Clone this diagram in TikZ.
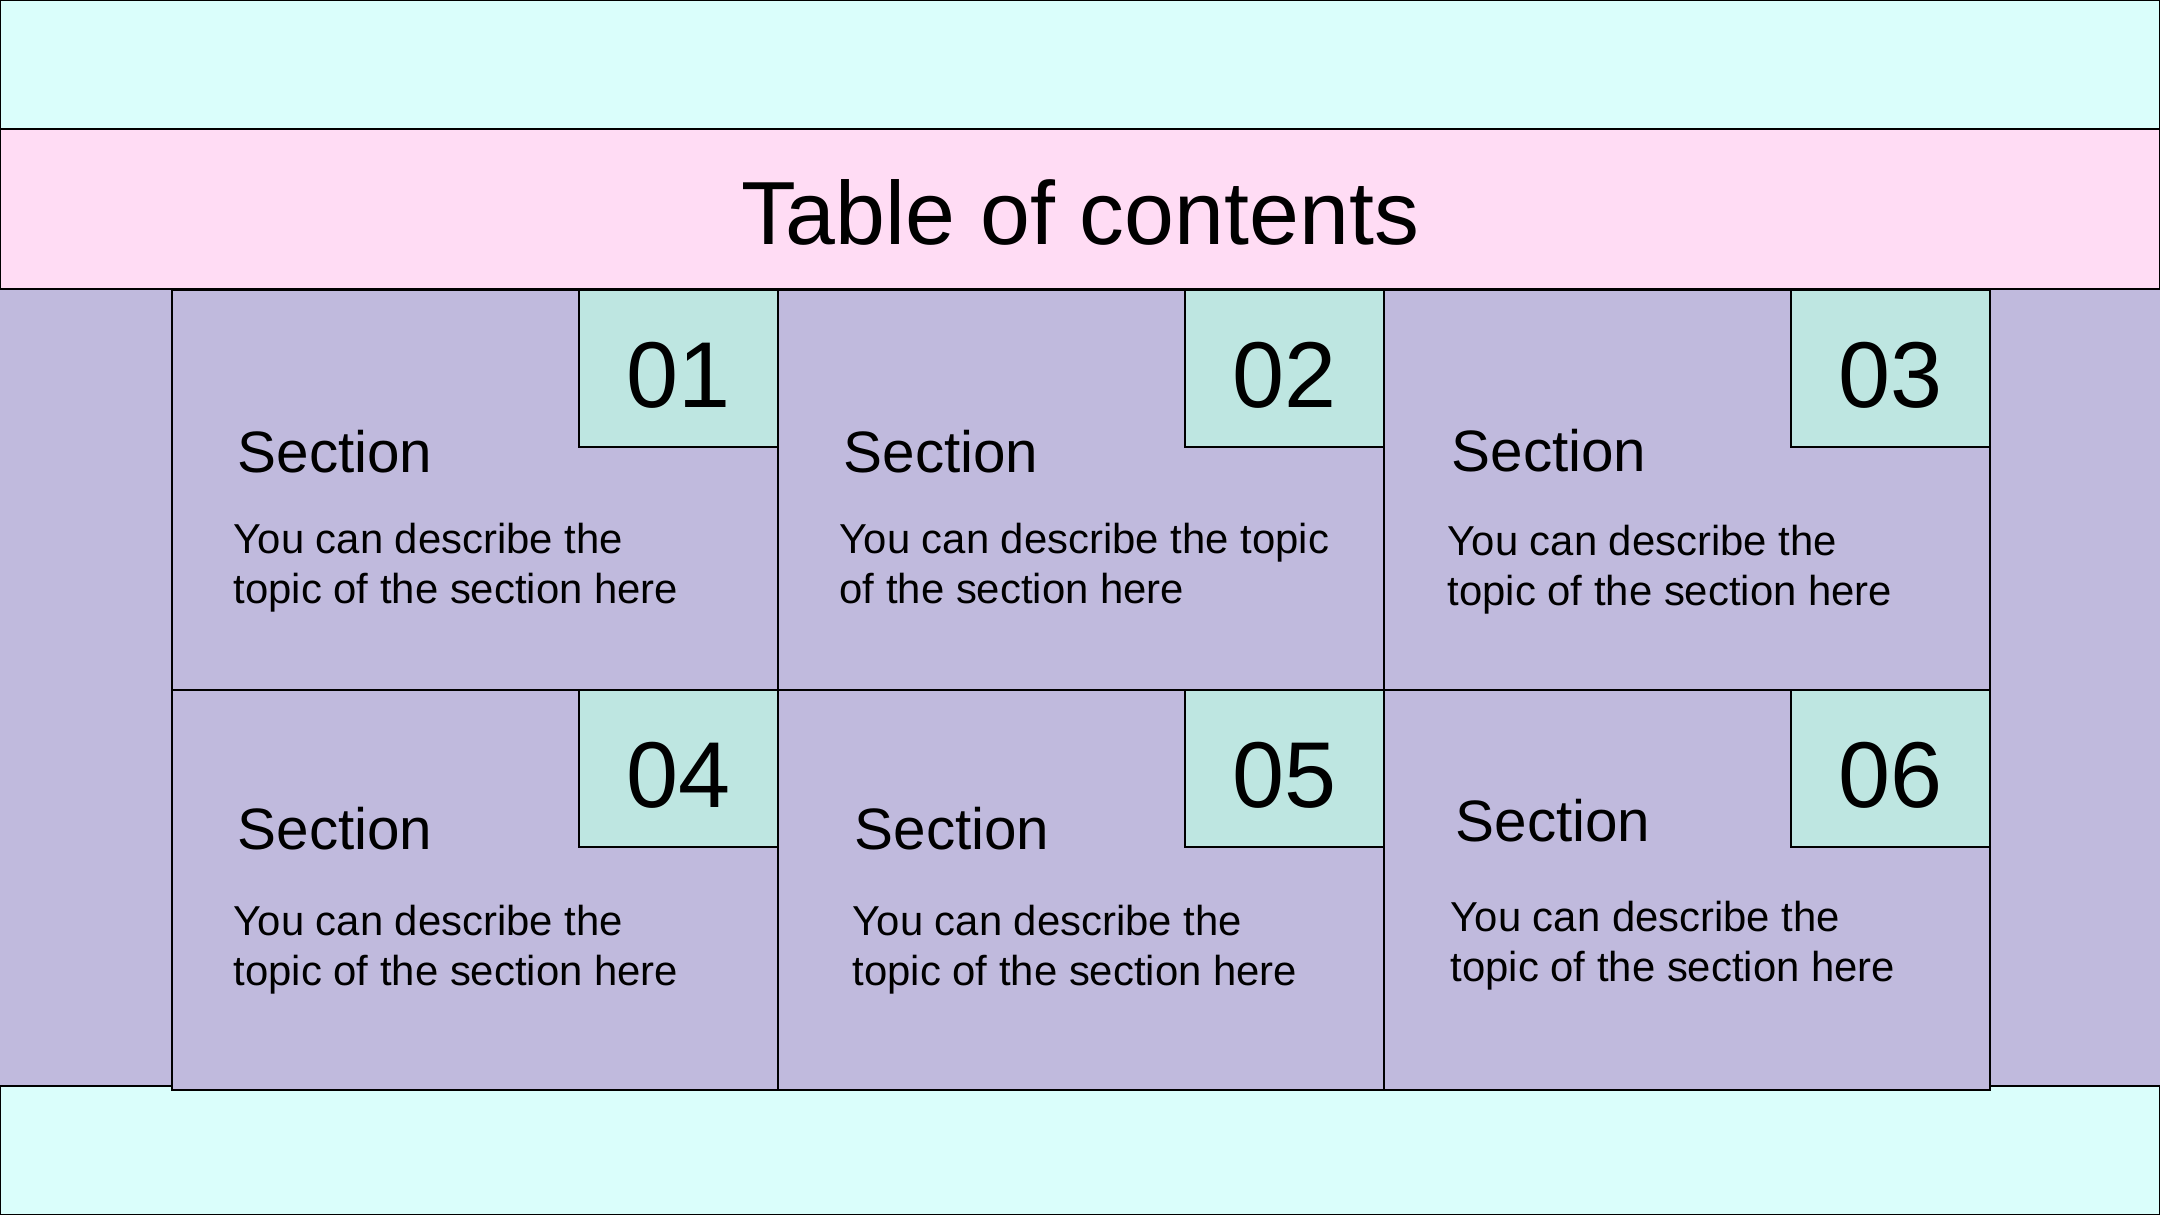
\documentclass[tikz,border=0pt]{standalone}
\usepackage{fontspec}
\setmainfont{Liberation Sans}
\usetikzlibrary{positioning}
\definecolor{bandcyan}{HTML}{DAFEFB}
\definecolor{titlepink}{HTML}{FFDCF4}
\definecolor{cardlilac}{HTML}{C0BADD}
\definecolor{numteal}{HTML}{BEE6E1}

\begin{document}
\begin{tikzpicture}[x=0.01cm, y=-0.01cm,
  band/.style={draw, line width=0.6pt},
  card/.style={draw, line width=0.6pt, fill=cardlilac, minimum width=6.06cm, minimum height=4cm, anchor=north west, inner sep=0pt},
  numbox/.style={draw, line width=0.6pt, fill=numteal, minimum width=1.99cm, minimum height=1.57cm, anchor=north east, inner sep=0pt, font=\fontsize{26.6}{30}\selectfont, text height=22pt, text depth=0pt},
  heading/.style={anchor=base west, inner sep=0pt, font=\fontsize{16.6}{20}\selectfont},
  blurb/.style={anchor=base west, inner sep=0pt, align=left, font=\fontsize{11.9}{14.2}\selectfont}
]
  \useasboundingbox (0,0) rectangle (2160,1215);

  % Background bands
  \fill[cardlilac] (0,289) rectangle (2160,1086);
  \draw[band, fill=bandcyan] (0,0) rectangle (2160,129);
  \draw[band, fill=titlepink] (0,129) rectangle (2160,289);
  \draw[band, fill=bandcyan] (0,1086) rectangle (2160,1215);
  \node[anchor=base, font=\fontsize{25.5}{30}\selectfont] (title) at (1080,244) {Table of contents};

  % Cards
  \node[card] (c1) at (171,289) {};
  \node[card] (c2) at (777,289) {};
  \node[card] (c3) at (1383,289) {};
  \node[card] (c4) at (171,689) {};
  \node[card] (c5) at (777,689) {};
  \node[card] (c6) at (1383,689) {};

  % Numbers
  \node[numbox] (n1) at (c1.north east) {01};
  \node[numbox] (n2) at (c2.north east) {02};
  \node[numbox] (n3) at (c3.north east) {03};
  \node[numbox] (n4) at (c4.north east) {04};
  \node[numbox] (n5) at (c5.north east) {05};
  \node[numbox] (n6) at (c6.north east) {06};

  % Section texts (blurbs sit on their last line)
  \node[heading] (h1) at (237,472) {Section};
  \node[heading] (h2) at (843,472) {Section};
  \node[heading] (h3) at (1451,471) {Section};
  \node[heading] (h4) at (237,849) {Section};
  \node[heading] (h5) at (854,849) {Section};
  \node[heading] (h6) at (1455,841) {Section};

  \node[blurb] (d1) at (233,603) {You can describe the\\topic of the section here};
  \node[blurb] (d2) at (839,603) {You can describe the topic\\of the section here};
  \node[blurb] (d3) at (1447,605) {You can describe the\\topic of the section here};
  \node[blurb] (d4) at (233,985) {You can describe the\\topic of the section here};
  \node[blurb] (d5) at (852,985) {You can describe the\\topic of the section here};
  \node[blurb] (d6) at (1450,981) {You can describe the\\topic of the section here};
\end{tikzpicture}
\end{document}
